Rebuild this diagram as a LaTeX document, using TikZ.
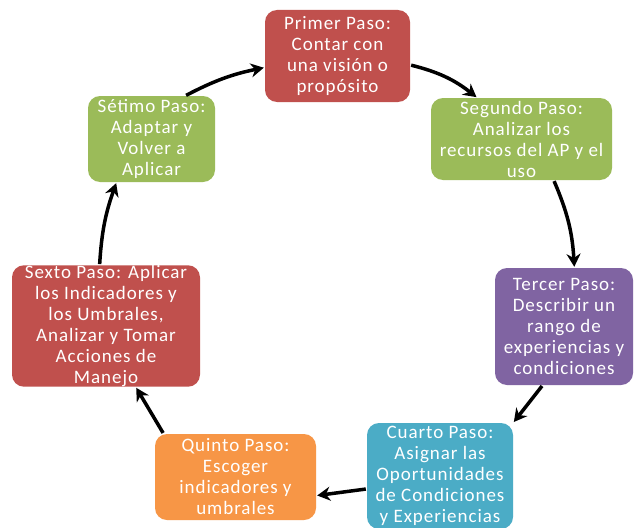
\documentclass[tikz,border=0pt]{standalone}
\usepackage{fontspec}
\setmainfont{Carlito}[LetterSpace=5]
\usetikzlibrary{arrows.meta}
\definecolor{rojo}{HTML}{C0504D}
\definecolor{verde}{HTML}{9BBB59}
\definecolor{morado}{HTML}{8064A2}
\definecolor{celeste}{HTML}{4BACC6}
\definecolor{naranja}{HTML}{F79646}
\tikzset{
	paso/.style={rounded corners=12pt, text=white, align=center, inner sep=0pt, font=\fontsize{19}{21}\selectfont},
	flecha/.style={line width=3.5pt, -{Stealth[length=13pt,width=14pt]}, shorten <=1pt, shorten >=1pt}
}

\begin{document}
\begin{tikzpicture}[x=1pt, y=-1pt]
	\path[use as bounding box, clip] (0,0) rectangle (634,527);
	\fill[white] (0,0) rectangle (634,527);
	% los siete pasos
	\node[paso, fill=rojo, minimum width=145pt, minimum height=92pt] (primer) at (337.5,56) {Primer Paso:\\Contar con\\una visión o\\propósito};
	\node[paso, fill=verde, minimum width=181pt, minimum height=82pt] (segundo) at (521.5,139) {Segundo Paso:\\Analizar los\\recursos del AP y el\\uso};
	\node[paso, fill=morado, minimum width=138pt, minimum height=117pt] (tercer) at (564,326.5) {Tercer Paso:\\Describir un\\rango de\\experiencias y\\condiciones};
	\node[paso, fill=celeste, minimum width=146pt, minimum height=106pt] (cuarto) at (440,476) {Cuarto Paso:\\Asignar las\\Oportunidades\\de Condiciones\\y Experiencias};
	\node[paso, fill=naranja, minimum width=161pt, minimum height=86pt] (quinto) at (235.5,477) {Quinto Paso:\\Escoger\\indicadores y\\umbrales};
	\node[paso, fill=rojo, minimum width=188pt, minimum height=120pt] (sexto) at (106,326) {Sexto Paso: Aplicar\\los Indicadores y\\los Umbrales,\\Analizar y Tomar\\Acciones de\\Manejo};
	\node[paso, fill=verde, minimum width=127pt, minimum height=86pt] (setimo) at (151.5,139) {Sétimo Paso:\\Adaptar y\\Volver a\\Aplicar};
	% flechas del ciclo
	\draw[flecha] (primer.-7) to[bend left=12] (segundo.137);
	\draw[flecha] (segundo.-52) to[bend left=10] (tercer.80);
	\draw[flecha] (tercer.-110) -- (cuarto.north east);
	\draw[flecha] (cuarto.190) -- (quinto.-13);
	\draw[flecha] (quinto.149) -- (sexto.-64);
	\draw[flecha] (sexto.96) to[bend left=8] (setimo.-129);
	\draw[flecha] (setimo.52) to[bend left=8] (primer.189);
\end{tikzpicture}
\end{document}
